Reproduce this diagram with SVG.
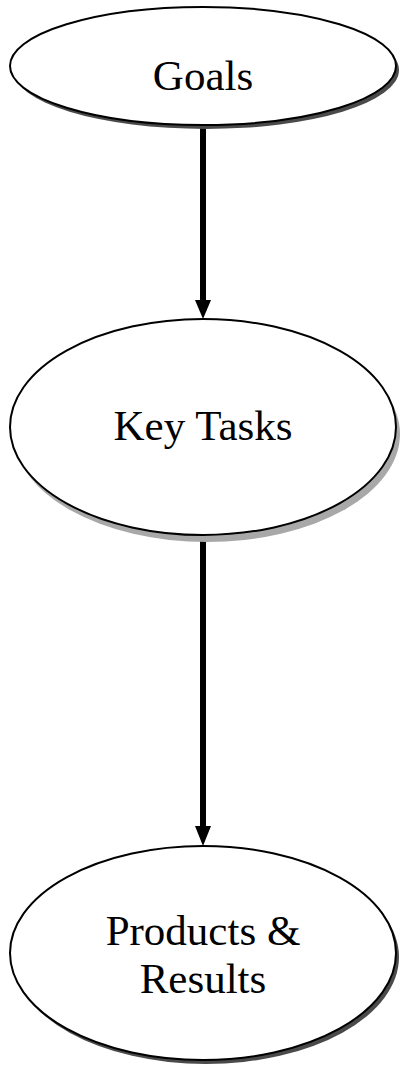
<svg xmlns="http://www.w3.org/2000/svg" width="401" height="1067" viewBox="0 0 401 1067">
<defs>
<style>
.node{fill:#fff;stroke:#000;stroke-width:2}
.shd{fill:#4a4a4a}
.shd2{fill:#a8a8a8}
.lbl{font-family:"Liberation Serif","Times New Roman",serif;font-size:43px;fill:#000;text-anchor:middle}
.conn{stroke:#000;stroke-width:6;fill:none}
</style>
</defs>
<rect width="401" height="1067" fill="#fff"/>
<g id="connectors">
<line class="conn" x1="203" y1="126" x2="203" y2="302"/>
<path d="M195,300 L211,300 L203,319 Z" fill="#000"/>
<line class="conn" x1="203" y1="535" x2="203" y2="828"/>
<path d="M195,826 L211,826 L203,846 Z" fill="#000"/>
</g>
<g id="goals">
<ellipse class="shd" cx="206" cy="70" rx="193" ry="59"/>
<ellipse class="node" cx="203" cy="66" rx="193" ry="59"/>
<text class="lbl" x="203" y="90">Goals</text>
</g>
<g id="key-tasks">
<ellipse class="shd2" cx="207" cy="434" rx="193" ry="108"/>
<ellipse class="node" cx="203" cy="427" rx="193" ry="108"/>
<text class="lbl" x="203" y="440">Key Tasks</text>
</g>
<g id="products-results">
<ellipse class="shd" cx="206" cy="957" rx="193" ry="107"/>
<ellipse class="node" cx="203" cy="953" rx="193" ry="107"/>
<text class="lbl" x="203" y="945">Products &amp;</text>
<text class="lbl" x="203" y="993">Results</text>
</g>
</svg>
